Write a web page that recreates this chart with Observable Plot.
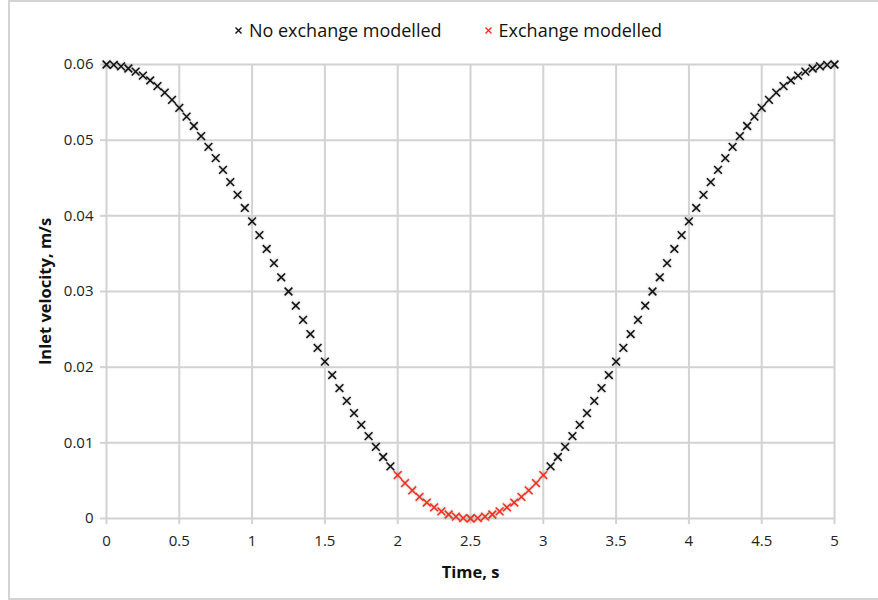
<!DOCTYPE html>
<html>
<head>
<meta charset="utf-8">
<script src="https://cdn.jsdelivr.net/npm/d3@7"></script>
<script src="https://cdn.jsdelivr.net/npm/@observablehq/plot@0.6"></script>
<style>
  html, body { margin: 0; padding: 0; background: #fff; overflow: hidden; }
  #wrap { position: relative; width: 878px; height: 600px; font-family: "Open Sans", sans-serif; }
  #frame { position: absolute; left: 8px; top: 0; width: 900px; height: 596px;
           border: 2px solid #d4d4d4; border-right: none; box-sizing: content-box; pointer-events: none; }
  #legend { position: relative; height: 50px; padding-top: 10px; display: flex; justify-content: center; align-items: center;
            font-size: 18px; color: #111; padding-left: 18px; box-sizing: border-box; }
  .item { display: flex; align-items: center; margin: 0 21px; }
  .item svg { margin-right: 6px; }
  #chart svg { display: block; }
</style>
</head>
<body>
<div id="wrap">
  <div id="frame"></div>
  <div id="legend"></div>
  <div id="chart"></div>
</div>
<script>
// Sample times (s)
const time = [
  0, 0.05, 0.1, 0.15, 0.2, 0.25, 0.3, 0.35, 0.4, 0.45,
  0.5, 0.55, 0.6, 0.65, 0.7, 0.75, 0.8, 0.85, 0.9, 0.95,
  1, 1.05, 1.1, 1.15, 1.2, 1.25, 1.3, 1.35, 1.4, 1.45,
  1.5, 1.55, 1.6, 1.65, 1.7, 1.75, 1.8, 1.85, 1.9, 1.95,
  2, 2.05, 2.1, 2.15, 2.2, 2.25, 2.3, 2.35, 2.4, 2.45,
  2.5, 2.55, 2.6, 2.65, 2.7, 2.75, 2.8, 2.85, 2.9, 2.95,
  3, 3.05, 3.1, 3.15, 3.2, 3.25, 3.3, 3.35, 3.4, 3.45,
  3.5, 3.55, 3.6, 3.65, 3.7, 3.75, 3.8, 3.85, 3.9, 3.95,
  4, 4.05, 4.1, 4.15, 4.2, 4.25, 4.3, 4.35, 4.4, 4.45,
  4.5, 4.55, 4.6, 4.65, 4.7, 4.75, 4.8, 4.85, 4.9, 4.95,
  5
];

// Inlet velocity at each sample (m/s)
const velocity = [
  0.06, 0.05994, 0.05976, 0.05947, 0.05906, 0.05853, 0.05789, 0.05715, 0.05629, 0.05533,
  0.05427, 0.05312, 0.05187, 0.05054, 0.04912, 0.04763, 0.04608, 0.04445, 0.04277, 0.04104,
  0.03927, 0.03746, 0.03562, 0.03376, 0.03188, 0.03, 0.02812, 0.02624, 0.02438, 0.02254,
  0.02073, 0.01896, 0.01723, 0.01555, 0.01393, 0.01237, 0.01088, 0.00946, 0.00813, 0.00689,
  0.00573, 0.00467, 0.00371, 0.00286, 0.00211, 0.00147, 0.00094, 0.00053, 0.00024, 0.00006,
  0, 0.00006, 0.00024, 0.00053, 0.00094, 0.00147, 0.00211, 0.00286, 0.00371, 0.00467,
  0.00573, 0.00689, 0.00813, 0.00946, 0.01088, 0.01237, 0.01393, 0.01555, 0.01723, 0.01896,
  0.02073, 0.02254, 0.02438, 0.02624, 0.02812, 0.03, 0.03188, 0.03376, 0.03562, 0.03746,
  0.03927, 0.04104, 0.04277, 0.04445, 0.04608, 0.04763, 0.04912, 0.05054, 0.05187, 0.05312,
  0.05427, 0.05533, 0.05629, 0.05715, 0.05789, 0.05853, 0.05906, 0.05947, 0.05976, 0.05994,
  0.06
];

// Window in which exchange is modelled (s)
const exchangeWindow = [2, 3];

const seriesNames = ["No exchange modelled", "Exchange modelled"];
const seriesColors = ["#111111", "#ff2a1a"];

const xTicks = [0, 0.5, 1, 1.5, 2, 2.5, 3, 3.5, 4, 4.5, 5];
const yTicks = [0, 0.01, 0.02, 0.03, 0.04, 0.05, 0.06];

const points = time.map((t, i) => ({
  t,
  v: velocity[i],
  series: t >= exchangeWindow[0] && t <= exchangeWindow[1] ? seriesNames[1] : seriesNames[0]
}));

// Legend
const legend = document.getElementById("legend");
seriesNames.forEach((name, i) => {
  const item = document.createElement("div");
  item.className = "item";
  item.innerHTML =
    `<svg width="9" height="9" viewBox="-4.5 -4.5 9 9"><path d="M-3,-3L3,3M-3,3L3,-3" stroke="${seriesColors[i]}" stroke-width="1.4"/></svg>` +
    `<span>${name}</span>`;
  legend.appendChild(item);
});

const gridColor = "#d2d2d2";

const chart = Plot.plot({
  width: 878,
  height: 550,
  marginTop: 14,
  marginBottom: 82,
  marginLeft: 106,
  marginRight: 44,
  style: { fontFamily: "Open Sans, sans-serif", fontSize: "15px", color: "#222", background: "white" },
  x: { domain: [0, 5] },
  y: { domain: [0, 0.06] },
  color: { domain: seriesNames, range: seriesColors },
  marks: [
    Plot.ruleX(xTicks, { y1: 0, y2: 0.06, stroke: gridColor, strokeWidth: 2 }),
    Plot.ruleY(yTicks, { x1: 0, x2: 5, stroke: gridColor, strokeWidth: 2 }),
    Plot.axisX({
      ticks: xTicks, tickSize: 6, tickPadding: 11, stroke: gridColor, strokeWidth: 2,
      tickFormat: d => String(d), label: null, fontSize: 15, fill: "#222"
    }),
    Plot.axisY({
      ticks: yTicks, tickSize: 6, tickPadding: 7, stroke: gridColor, strokeWidth: 2,
      tickFormat: d => (d === 0 ? "0" : d.toFixed(2)), label: null, fontSize: 15, fill: "#222"
    }),
    Plot.dot(points, {
      x: "t", y: "v", stroke: "series", symbol: "times", r: 3.6, strokeWidth: 1.5
    }),
    Plot.text(["Time, s"], {
      frameAnchor: "bottom", dy: 54, fontWeight: "bold", fontSize: 16.5, fill: "#111", lineAnchor: "middle"
    }),
    Plot.text(["Inlet velocity, m/s"], {
      frameAnchor: "left", dx: -61, rotate: -90, textAnchor: "middle", fontWeight: "bold", fontSize: 16.5, fill: "#111", lineAnchor: "middle"
    })
  ]
});

// Soft shadow under the markers
chart.querySelectorAll('g[aria-label="dot"]').forEach(g => {
  g.style.filter = "drop-shadow(0.8px 0.8px 0.8px rgba(0,0,0,0.35))";
});

document.getElementById("chart").appendChild(chart);
</script>
</body>
</html>
